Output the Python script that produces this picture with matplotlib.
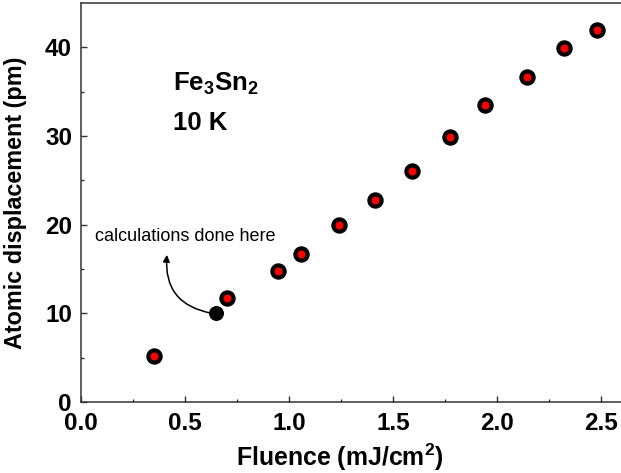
import matplotlib
matplotlib.use('Agg')
import matplotlib.pyplot as plt
from matplotlib.patches import FancyArrowPatch

plt.rcParams['font.family'] = ['Liberation Sans', 'DejaVu Sans']
plt.rcParams['mathtext.fontset'] = 'custom'
plt.rcParams['mathtext.default'] = 'regular'

# дані: флюенс (mJ/cm2) та зміщення атомів (pm)
fluence = [0.351, 0.703, 0.946, 1.059, 1.242, 1.413, 1.590, 1.774, 1.944, 2.143, 2.321, 2.481]
displacement = [5.23, 11.77, 14.75, 16.7, 19.94, 22.8, 26.0, 29.94, 33.49, 36.6, 39.88, 41.9]

# точка, де робились розрахунки
calc_fluence = [0.648]
calc_displacement = [10.0]

x_ticks = [0.0, 0.5, 1.0, 1.5, 2.0, 2.5]
y_ticks = [0, 10, 20, 30, 40]

fig = plt.figure(figsize=(6.21, 4.73), dpi=100)
ax = fig.add_axes([81 / 621, 71 / 473, 540.8 / 621, 399 / 473])

ax.plot(fluence, displacement, 'o', ms=8.8, mfc='red', mec='black', mew=3.0, zorder=3)
ax.plot(calc_fluence, calc_displacement, 'o', ms=10.8, color='black', mec='black', mew=0, zorder=3)

ax.set_xlim(0, 2.6)
ax.set_ylim(0, 45)
ax.set_xticks(x_ticks)
ax.set_yticks(y_ticks)
ax.set_xticks([0.25, 0.75, 1.25, 1.75, 2.25], minor=True)
ax.set_yticks([5, 15, 25, 35], minor=True)
ax.set_xticklabels([f'{v:.1f}' for v in x_ticks])
ax.set_yticklabels([str(v) for v in y_ticks])

ax.tick_params(which='both', direction='in', color='#333333', labelsize=17.5)
ax.tick_params(axis='x', pad=7.5)
ax.tick_params(axis='y', pad=6.5)
ax.tick_params(which='major', length=4.5, width=1.0)
ax.tick_params(which='minor', length=2.3, width=1.0)
for lab in ax.get_xticklabels() + ax.get_yticklabels():
    lab.set_fontweight('bold')

for s in ['left', 'bottom', 'top']:
    ax.spines[s].set_color('#333333')
    ax.spines[s].set_linewidth(1.1)
ax.spines['right'].set_visible(False)

ax.set_xlabel('Fluence (mJ/cm$^2$)', fontsize=17.9, fontweight='bold')
ax.set_ylabel('Atomic displacement (pm)', fontsize=16.8, fontweight='bold')
ax.xaxis.set_label_coords(0.478, -0.1)
ax.yaxis.set_label_coords(-0.1, 0.499)

ax.text(0.442, 35.1, 'Fe$_3$Sn$_2$', fontsize=18.5, fontweight='bold', va='baseline')
ax.text(0.442, 30.7, '10 K', fontsize=18.5, fontweight='bold', va='baseline')
ax.text(0.066, 18.2, 'calculations done here', fontsize=13, va='baseline')

arrow = FancyArrowPatch((0.63, 10.0), (0.413, 16.6), connectionstyle='arc3,rad=-0.45',
                        arrowstyle='-|>,head_length=4,head_width=2', color='black',
                        lw=1.1, shrinkA=0, shrinkB=0, zorder=2)
ax.add_patch(arrow)

fig.savefig('out.png', dpi=100)
